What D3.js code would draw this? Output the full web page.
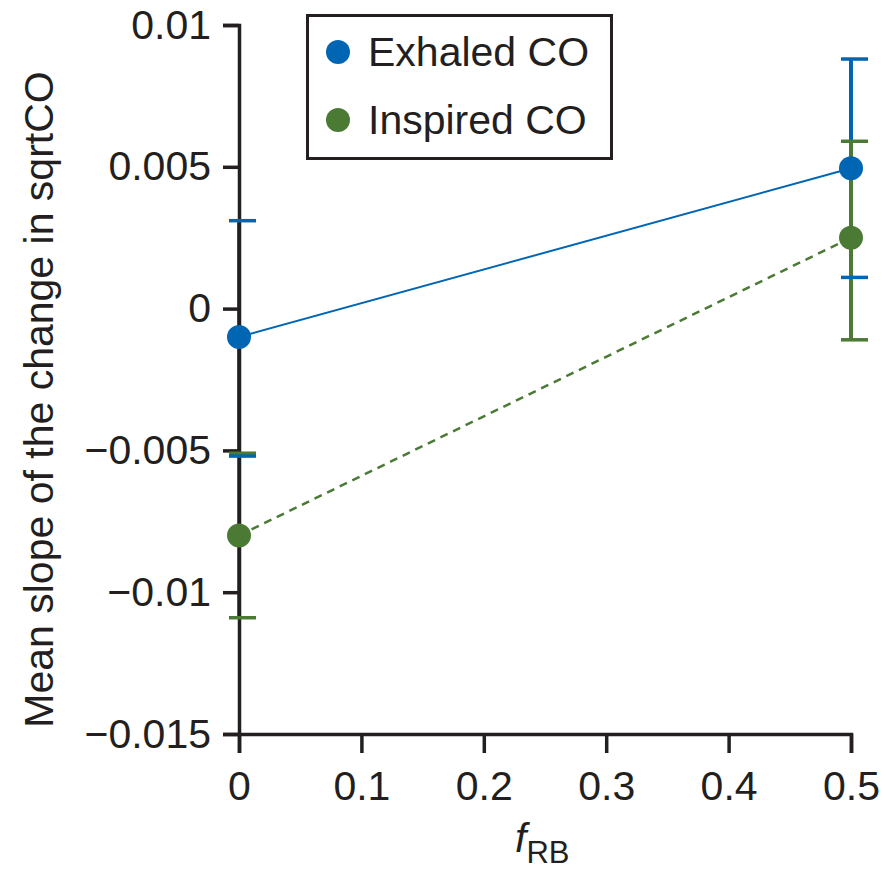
<!DOCTYPE html>
<html>
<head>
<meta charset="utf-8">
<script src="https://cdn.jsdelivr.net/npm/d3@7"></script>
<style>
  body { margin: 0; background: #fff; }
  svg { display: block; font-family: "Liberation Sans", Arial, sans-serif; }
  .axis path, .axis line { stroke: #231f20; stroke-width: 3.5; }
  .axis text { fill: #231f20; font-size: 41px; }
</style>
</head>
<body>
<div id="chart"></div>
<script>
// data
const seriesNames = ['Exhaled CO', 'Inspired CO'];
const fRB = [0, 0.5];
const exhaledMean = [-0.001, 0.00495];
const exhaledLow = [-0.0052, 0.0011];
const exhaledHigh = [0.0031, 0.0088];
const inspiredMean = [-0.008, 0.0025];
const inspiredLow = [-0.0109, -0.0011];
const inspiredHigh = [-0.0051, 0.0059];
const xTicks = [0, 0.1, 0.2, 0.3, 0.4, 0.5];
const yTicks = [-0.015, -0.01, -0.005, 0, 0.005, 0.01];
const colours = ['#0066b3', '#4b7a34'];

const config = {
  width: 887,
  height: 871,
  margin: { top: 25, right: 36, bottom: 137, left: 239 }
};

const svg = d3.select('#chart').append('svg')
  .attr('width', config.width)
  .attr('height', config.height);

const x = d3.scaleLinear()
  .domain([0, 0.5])
  .range([config.margin.left, config.width - config.margin.right]);

const y = d3.scaleLinear()
  .domain([-0.015, 0.01])
  .range([config.height - config.margin.bottom, config.margin.top]);

const series = seriesNames.map((name, i) => ({
  name: name,
  colour: colours[i],
  dashed: i === 1,
  points: fRB.map((f, j) => ({
    f: f,
    mean: i === 0 ? exhaledMean[j] : inspiredMean[j],
    low: i === 0 ? exhaledLow[j] : inspiredLow[j],
    high: i === 0 ? exhaledHigh[j] : inspiredHigh[j]
  }))
}));

const yFmt = d => d === 0 ? '0' : d3.format('')(+d.toFixed(3)).replace('-', '\u2212');

// connecting lines
const line = d3.line().x(d => x(d.f)).y(d => y(d.mean));
svg.selectAll('.series-line')
  .data(series)
  .join('path')
  .attr('class', 'series-line')
  .attr('d', d => line(d.points))
  .attr('fill', 'none')
  .attr('stroke', d => d.colour)
  .attr('stroke-width', d => d.dashed ? 2.5 : 2)
  .attr('stroke-dasharray', d => d.dashed ? '8,6' : null);

// vertical error bars
const bars = series.flatMap(s => s.points.map(p => ({ ...p, colour: s.colour, name: s.name })));
svg.selectAll('.err')
  .data(bars)
  .join('line')
  .attr('class', 'err')
  .attr('x1', d => x(d.f)).attr('x2', d => x(d.f))
  .attr('y1', d => y(d.low)).attr('y2', d => y(d.high))
  .attr('stroke', d => d.colour)
  .attr('stroke-width', 4);

// axes
svg.append('g')
  .attr('class', 'axis')
  .attr('transform', `translate(0,${y.range()[0]})`)
  .call(d3.axisBottom(x).tickValues(xTicks).tickSize(19).tickPadding(10)
    .tickFormat(d => d === 0 ? '0' : d3.format('.1f')(d)))
  .call(g => g.selectAll('text').attr('dy', '0.9em'));

svg.append('g')
  .attr('class', 'axis')
  .attr('transform', `translate(${x.range()[0]},0)`)
  .call(d3.axisLeft(y).tickValues(yTicks).tickSize(16).tickPadding(12).tickFormat(yFmt));

// caps: inspired first, exhaled on top
const caps = [...bars].reverse().flatMap(d => [
  { f: d.f, v: d.low, colour: d.colour },
  { f: d.f, v: d.high, colour: d.colour }
]);
svg.selectAll('.cap')
  .data(caps)
  .join('line')
  .attr('class', 'cap')
  .attr('x1', d => x(d.f) - 10).attr('x2', d => x(d.f) + 17)
  .attr('y1', d => y(d.v)).attr('y2', d => y(d.v))
  .attr('stroke', d => d.colour)
  .attr('stroke-width', 3.5);

// markers
svg.selectAll('.dot')
  .data(bars)
  .join('circle')
  .attr('class', 'dot')
  .attr('cx', d => x(d.f))
  .attr('cy', d => y(d.mean))
  .attr('r', 12)
  .attr('fill', d => d.colour);

// axis titles
svg.append('text')
  .attr('transform', `translate(53,${(y.range()[0] + y.range()[1]) / 2 + 20}) rotate(-90)`)
  .attr('text-anchor', 'middle')
  .attr('fill', '#231f20')
  .style('font-size', '41px')
  .text('Mean slope of the change in sqrtCO');

const xTitle = svg.append('text')
  .attr('x', 515)
  .attr('y', 852)
  .attr('fill', '#231f20')
  .style('font-size', '41px');
xTitle.append('tspan').style('font-style', 'italic').text('f');
xTitle.append('tspan').attr('dy', 11).style('font-size', '31px').text('RB');

// legend
const legend = svg.append('g');
legend.append('rect')
  .attr('x', 307.5).attr('y', 15.5)
  .attr('width', 304).attr('height', 143)
  .attr('fill', '#fff')
  .attr('stroke', '#231f20')
  .attr('stroke-width', 3);

const items = legend.selectAll('.item')
  .data(series)
  .join('g')
  .attr('class', 'item')
  .attr('transform', (d, i) => `translate(338,${52 + i * 68})`);
items.append('circle').attr('r', 12).attr('fill', d => d.colour);
items.append('text')
  .attr('x', 30).attr('y', 14)
  .attr('fill', '#231f20')
  .style('font-size', '41px')
  .text(d => d.name);
</script>
</body>
</html>
